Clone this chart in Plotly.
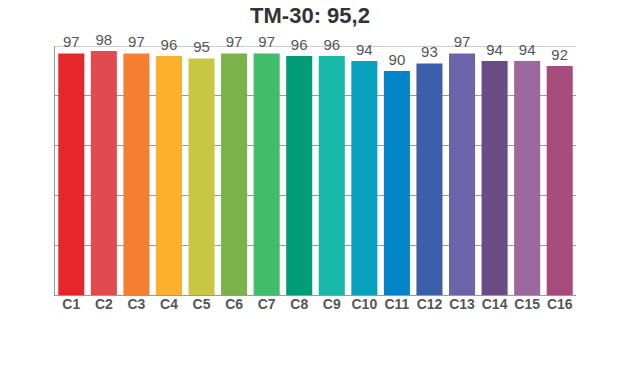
import plotly.graph_objects as go

categories = ["C1", "C2", "C3", "C4", "C5", "C6", "C7", "C8",
              "C9", "C10", "C11", "C12", "C13", "C14", "C15", "C16"]
values = [97, 98, 97, 96, 95, 97, 97, 96, 96, 94, 90, 93, 97, 94, 94, 92]
colors = ["#e5262a", "#e24a51", "#f57f30", "#fbb12d", "#c8c642", "#7bb34a",
          "#40bc6a", "#029b78", "#18b9a9", "#06a2bf", "#0384c6", "#3b5fa8",
          "#6b64a9", "#6a4c86", "#9b69a0", "#a54c7c"]
title_text = "TM-30: 95,2"
y_max = 100

fig = go.Figure(go.Bar(
    x=categories, y=values,
    marker=dict(color=colors, line=dict(width=0)),
    text=[str(v) for v in values],
    textposition="outside",
    textfont=dict(family="Liberation Sans, Arial, sans-serif", size=15, color="#555555"),
    cliponaxis=False,
))

fig.add_shape(type="line", xref="paper", yref="y", x0=0, x1=1, y0=y_max, y1=y_max,
              line=dict(color="#999999", width=1), layer="below")

fig.update_layout(
    width=620, height=370,
    margin=dict(l=55, r=44, t=46, b=75),
    paper_bgcolor="white", plot_bgcolor="white",
    bargap=0.2,
    showlegend=False,
    title=dict(text="<b>" + title_text + "</b>", x=0.5, xanchor="center",
               y=0.959, yanchor="middle",
               font=dict(family="Liberation Sans, Arial, sans-serif", size=22, color="#333333")),
    xaxis=dict(showline=True, linecolor="#999999", linewidth=1, showgrid=False,
               ticks="", tickfont=dict(family="Liberation Sans, Arial, sans-serif",
                                       size=14, color="#555555", weight="bold"),
               ticklabelstandoff=-4),
    yaxis=dict(range=[0, y_max], dtick=20, showgrid=True, gridcolor="#999999", gridwidth=1,
               showline=True, linecolor="#999999", linewidth=1, showticklabels=False,
               ticks="", zeroline=False),
)

fig.write_html("out.html")
